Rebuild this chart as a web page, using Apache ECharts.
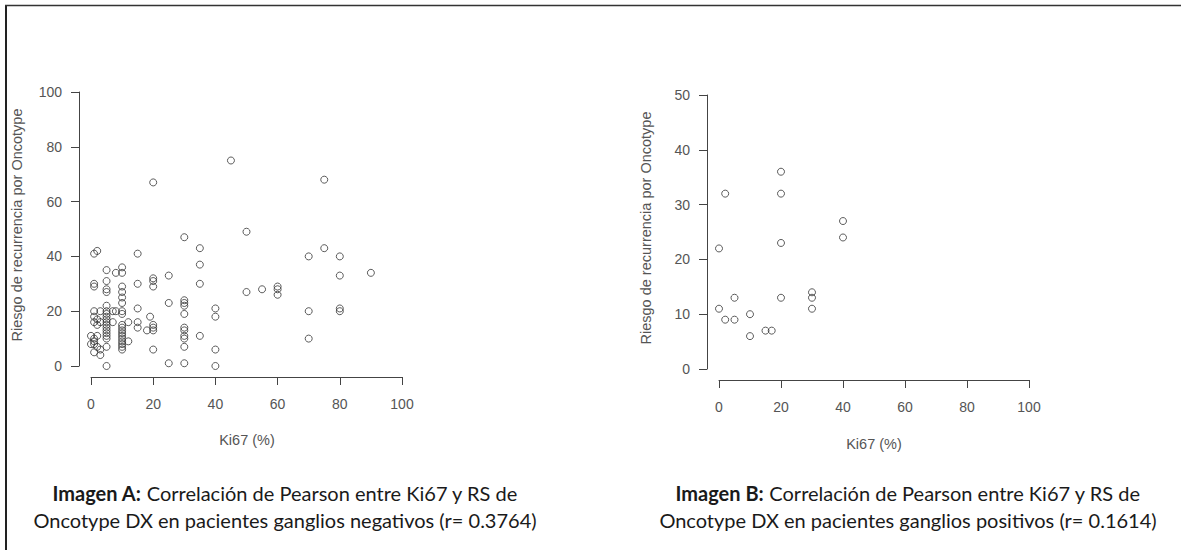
<!DOCTYPE html>
<html>
<head>
<meta charset="utf-8">
<script src="https://cdn.jsdelivr.net/npm/echarts@6/dist/echarts.min.js"></script>
<style>
html,body{margin:0;padding:0;background:#fff;}
#chart{width:1181px;height:550px;}
</style>
</head>
<body>
<div id="chart"></div>
<script>
// Ganglios negativos (Imagen A): Ki67 (%) and Oncotype RS
const negKi67 = [0,0,
  1,1,1,1,1,1,1,1,1,1,
  2,2,2,2,2,
  3,3,3,3,
  5,5,5,5,5,5,5,5,5,5,5,5,5,5,5,5,5,5,
  7,7, 8,8,
  10,10,10,10,10,10,10,10,10,10,10,10,10,10,10,10,10,10,
  12,12,
  15,15,15,15,15,
  18,19,
  20,20,20,20,20,20,20,20,
  25,25,25,
  30,30,30,30,30,30,30,30,30,30,30,
  35,35,35,35,
  40,40,40,40,
  45,50,50,55,
  60,60,60,
  70,70,70,
  75,75,
  80,80,80,80,
  90];
const negRS = [11,8,
  41,30,29,20,18,16,10,9,8,5,
  42,17,15,11,7,
  20,16,4,6,
  35,31,28,27,22,20,19,18,17,16,15,14,13,12,11,10,7,0,
  20,16, 34,20,
  36,34,29,27,25,23,20,19,15,14,13,12,11,10,9,8,7,6,
  16,9,
  41,30,21,16,14,
  13,18,
  67,32,31,29,15,14,13,6,
  33,23,1,
  47,24,23,22,19,14,13,11,10,7,1,
  43,37,30,11,
  21,18,6,0,
  75,49,27,28,
  29,28,26,
  40,20,10,
  68,43,
  40,33,21,20,
  34];

// Ganglios positivos (Imagen B)
const posKi67 = [0,0,2,2,5,5,10,10,15,17,20,20,20,20,30,30,30,40,40];
const posRS   = [22,11,32,9,13,9,10,6,7,7,36,32,23,13,14,13,11,27,24];

const xTicksA = {min:0, max:100, interval:20};
const yTicksA = {min:0, max:100, interval:20};
const xTicksB = {min:0, max:100, interval:20};
const yTicksB = {min:0, max:50, interval:10};

const yTitle = 'Riesgo de recurrencia por Oncotype';
const xTitle = 'Ki67 (%)';
const captionA = ['Imagen A:', ' Correlación de Pearson entre Ki67 y RS de', 'Oncotype DX en pacientes ganglios negativos (r= 0.3764)'];
const captionB = ['Imagen B:', ' Correlación de Pearson entre Ki67 y RS de', 'Oncotype DX en pacientes ganglios positivos (r= 0.1614)'];

function zip(a,b){return a.map((v,i)=>[v,b[i]]);}

const axisColor = '#444';
const labelColor = '#555';
const labelFont = 'Liberation Sans, Arial, sans-serif';
const capFont = 'Lato, Open Sans, sans-serif';

function xAx(idx, t, offset){
  return {gridIndex: idx, type:'value', min:t.min, max:t.max, interval:t.interval, offset: offset,
    axisLine:{show:true, onZero:false, lineStyle:{color:axisColor, width:1}},
    axisTick:{show:true, length:8, lineStyle:{color:axisColor}},
    axisLabel:{color:labelColor, fontSize:14, fontFamily:labelFont, margin:20},
    splitLine:{show:false}};
}
function yAx(idx, t, offset){
  return {gridIndex: idx, type:'value', min:t.min, max:t.max, interval:t.interval, offset: offset,
    axisLine:{show:true, onZero:false, lineStyle:{color:axisColor, width:1}},
    axisTick:{show:true, length:8, lineStyle:{color:axisColor}},
    axisLabel:{color:labelColor, fontSize:14, fontFamily:labelFont, margin:17},
    splitLine:{show:false}};
}
function scat(idx, xs, ys){
  return {type:'scatter', xAxisIndex:idx, yAxisIndex:idx, data: zip(xs, ys), symbol:'circle', symbolSize:7,
    clip:false, silent:true,
    itemStyle:{color:'rgba(255,255,255,0)', borderColor:'#333', borderWidth:1}};
}
function caption(lines, cx){
  return [
    {type:'text', x:cx, y:493, style:{text:'{b|'+lines[0]+'}{n|'+lines[1]+'}', align:'center', verticalAlign:'middle',
      rich:{b:{fontFamily:capFont, fontSize:20, fontWeight:'bold', fill:'#1a1a1a'},
            n:{fontFamily:capFont, fontSize:20, fill:'#1a1a1a'}}}},
    {type:'text', x:cx, y:520, style:{text:lines[2], align:'center', verticalAlign:'middle',
      fontFamily:capFont, fontSize:20, fill:'#1a1a1a'}}
  ];
}
function axisTitle(text, x, y, rot){
  return {type:'text', x:x, y:y, rotation: rot, style:{text:text, align:'center', verticalAlign:'middle',
    fontFamily:labelFont, fontSize:14.5, fill:labelColor}};
}

const chart = echarts.init(document.getElementById('chart'), null, {renderer:'svg'});
chart.setOption({
  animation:false,
  backgroundColor:'#fff',
  grid:[
    {left:91, top:92, width:311, height:274},
    {left:719, top:95, width:310, height:274}
  ],
  xAxis:[xAx(0, xTicksA, 11), xAx(1, xTicksB, 11)],
  yAxis:[yAx(0, yTicksA, 12), yAx(1, yTicksB, 12)],
  series:[scat(0, negKi67, negRS), scat(1, posKi67, posRS)],
  graphic:[
    {type:'line', shape:{x1:6, y1:5, x2:6, y2:550}, style:{stroke:'#222', lineWidth:2}},
    {type:'line', shape:{x1:5, y1:5.5, x2:1181, y2:5.5}, style:{stroke:'#333', lineWidth:1.5}},
    axisTitle(yTitle, 17, 225, Math.PI/2),
    axisTitle(yTitle, 646, 228, Math.PI/2),
    axisTitle(xTitle, 247, 440, 0),
    axisTitle(xTitle, 874, 444, 0)
  ].concat(caption(captionA, 285)).concat(caption(captionB, 908))
});
</script>
</body>
</html>
